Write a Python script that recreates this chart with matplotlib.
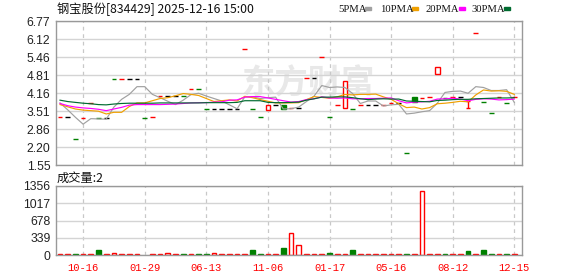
import numpy as np
import matplotlib.pyplot as plt
from matplotlib.patches import Rectangle

# ---- data (60 trading days) ----
opens = [3.30, 3.30, 2.48, 3.26, 3.80, 3.26, 3.26, 4.67, 4.67, 4.67,
         4.67, 3.26, 3.29, 4.05, 4.05, 4.05, 4.05, 4.29, 4.29, 3.59,
         3.59, 3.59, 3.59, 3.59, 5.74, 3.59, 3.30, 3.54, 3.71, 3.71,
         3.62, 3.62, 4.71, 4.71, 5.47, 3.30, 3.71, 3.61, 3.59, 3.71,
         3.71, 3.71, 3.71, 3.80, 3.80, 1.99, 4.02, 3.97, 4.01, 4.86,
         3.97, 4.02, 4.02, 3.62, 6.34, 3.82, 3.44, 4.02, 3.80, 4.02]
closes = [3.30, 3.30, 2.48, 3.26, 3.80, 3.26, 3.26, 4.67, 4.67, 4.67,
          4.67, 3.26, 3.29, 4.05, 4.05, 4.05, 4.05, 4.29, 4.29, 3.59,
          3.59, 3.59, 3.59, 3.59, 5.74, 3.59, 3.30, 3.71, 3.71, 3.59,
          3.62, 3.62, 4.71, 4.71, 5.47, 3.30, 3.71, 4.61, 3.59, 3.71,
          3.71, 3.71, 3.71, 3.80, 3.80, 1.99, 3.85, 3.97, 4.01, 5.12,
          3.97, 4.02, 4.02, 3.62, 6.34, 3.82, 3.44, 4.02, 3.80, 4.02]
highs = [max(o, c) for o, c in zip(opens, closes)]
highs[53] = 3.86
lows = [min(o, c) for o, c in zip(opens, closes)]
# r = up, g = down, k = flat
candle_dir = ("r k g r r g k g r k "
              "k g r r k k g r g g "
              "k k k k r g g r k g "
              "r k r k r g r r g r "
              "k k r r k g g r r r "
              "g r k r r g g r g r").split()

volume = [20, 20, 20, 20, 20, 100, 20, 45, 20, 20,
          20, 0, 20, 20, 45, 20, 20, 20, 20, 20,
          45, 20, 20, 20, 20, 100, 20, 20, 20, 140,
          426, 196, 20, 20, 20, 45, 20, 20, 105, 20,
          20, 20, 20, 20, 20, 20, 20, 1260, 20, 20,
          20, 20, 20, 85, 20, 105, 20, 20, 20, 20]
vol_dir = ("r r g r r g r r r r "
           "r r r r r r g r g g "
           "r r r r r g g r r g "
           "r r r r r g r r g r "
           "r r r r r g r r r r "
           "g r r g r g g r g r").split()

ma5 = [3.80, 3.55, 3.28, 3.03, 3.23, 3.22, 3.21, 3.65, 3.93, 4.11,
       4.39, 4.39, 4.11, 3.99, 3.86, 3.74, 3.90, 4.10, 4.15, 4.05,
       3.96, 3.87, 3.73, 3.59, 4.02, 4.02, 3.96, 3.99, 4.01, 3.58,
       3.59, 3.65, 3.85, 4.05, 4.43, 4.36, 4.38, 4.36, 4.14, 3.78,
       3.87, 3.87, 3.69, 3.73, 3.75, 3.40, 3.43, 3.48, 3.52, 3.79,
       4.18, 4.22, 4.23, 4.15, 4.39, 4.36, 4.25, 4.25, 4.28, 3.82]
ma10 = [3.74, 3.66, 3.58, 3.54, 3.52, 3.50, 3.40, 3.46, 3.46, 3.67,
        3.80, 3.80, 3.88, 3.96, 3.99, 4.06, 4.14, 4.11, 4.07, 3.96,
        3.85, 3.88, 3.91, 3.87, 4.04, 3.99, 3.92, 3.86, 3.80, 3.80,
        3.80, 3.81, 3.92, 4.03, 4.00, 3.97, 4.02, 4.11, 4.09, 4.11,
        4.11, 4.12, 4.02, 3.93, 3.77, 3.63, 3.65, 3.58, 3.63, 3.77,
        3.79, 3.82, 3.86, 3.84, 4.09, 4.27, 4.23, 4.24, 4.22, 4.11]
ma20 = [3.78, 3.70, 3.65, 3.62, 3.60, 3.57, 3.52, 3.58, 3.64, 3.72,
        3.74, 3.74, 3.74, 3.74, 3.75, 3.76, 3.78, 3.80, 3.81, 3.81,
        3.83, 3.84, 3.90, 3.91, 4.01, 4.03, 4.03, 3.98, 3.93, 3.88,
        3.83, 3.85, 3.92, 3.95, 4.02, 3.98, 3.97, 3.98, 3.95, 3.95,
        3.96, 3.96, 3.97, 3.98, 3.88, 3.80, 3.83, 3.84, 3.86, 3.94,
        3.95, 3.97, 3.94, 3.88, 3.93, 3.95, 3.94, 3.91, 3.92, 3.94]
ma30 = [3.90, 3.85, 3.82, 3.79, 3.77, 3.74, 3.73, 3.76, 3.78, 3.79,
        3.79, 3.79, 3.79, 3.80, 3.80, 3.80, 3.80, 3.80, 3.80, 3.81,
        3.81, 3.81, 3.81, 3.82, 3.88, 3.88, 3.88, 3.82, 3.81, 3.81,
        3.82, 3.83, 3.90, 3.95, 4.01, 4.01, 4.02, 4.02, 3.99, 3.95,
        3.92, 3.94, 3.95, 3.94, 3.94, 3.87, 3.86, 3.85, 3.84, 3.89,
        3.90, 3.92, 3.93, 3.93, 3.95, 3.96, 3.97, 3.98, 3.98, 3.99]

date_idx = [3, 11, 19, 27, 35, 43, 51, 59]
date_labels = ['10-16', '01-29', '06-13', '11-06', '01-17', '05-16', '08-12', '12-15']
price_ticks = [1.55, 2.2025, 2.855, 3.5075, 4.16, 4.8125, 5.465, 6.1175, 6.77]
price_labels = ['1.55', '2.20', '2.86', '3.51', '4.16', '4.81', '5.46', '6.12', '6.77']
vol_ticks = [0, 339, 678, 1017, 1356]

RED, GREEN, BLACK = '#ff0000', '#008000', '#000000'
cmap = {'r': RED, 'g': GREEN, 'k': BLACK}
ma_colors = ['#a0a0a0', '#f0a000', '#ff00ff', '#006b30']

W, H = 578, 276
def fx(x): return x / W
def fy(y): return 1 - y / H

fig = plt.figure(figsize=(W / 100, H / 100), dpi=100)
ax = fig.add_axes([fx(56), fy(165), 466 / W, 144 / H])
axv = fig.add_axes([fx(56), fy(255), 466 / W, 69 / H])

n = len(closes)
x = np.arange(n)
bw = 0.62

for a in (ax, axv):
    a.set_xlim(-0.52, 60.0)
    a.set_xticks(date_idx)
    a.grid(axis='y', color='#d4d4d4', lw=1, ls='-')
    a.grid(axis='x', color='#c8c8c8', lw=0.9, ls=(0, (3, 3)))
    a.set_axisbelow(True)
    for s in a.spines.values():
        s.set_color('#999999')
        s.set_linewidth(1)
    a.tick_params(length=0, pad=4, labelsize=8.5)

# price panel
ax.set_ylim(1.55, 6.77)
ax.set_yticks(price_ticks)
ax.set_yticklabels(price_labels, family='Liberation Sans', fontsize=8.7, color='#222222')
ax.set_xticklabels([])

# watermark
ax.text(32.2, 4.5, '东方财富', fontsize=24, fontweight='bold', color='#e8e8e8',
        ha='center', va='center', family='Noto Sans CJK SC', zorder=0.5)

for i in range(n):
    o, h, l, c = opens[i], highs[i], lows[i], closes[i]
    col = cmap[candle_dir[i]]
    if o == c:
        ax.hlines(o, i - bw / 2, i + bw / 2, color=col, lw=1.0, zorder=2)
        if h > l:
            ax.vlines(i, l, h, color=col, lw=1.0, zorder=2)
            ax.hlines(h, i - bw / 2, i + bw / 2, color=col, lw=1.0, zorder=2)
    else:
        if c > o:
            rect = Rectangle((i - bw / 2, o), bw, c - o, facecolor='white',
                             edgecolor=col, lw=1.0, zorder=2)
        else:
            rect = Rectangle((i - bw / 2, c), bw, o - c, facecolor=col,
                             edgecolor=col, lw=1.0, zorder=2)
        ax.add_patch(rect)

for ma, col in zip([ma5, ma10, ma20, ma30], ma_colors):
    ax.plot(x, ma, color=col, lw=0.85, zorder=3)

# volume panel
axv.set_ylim(0, 1356)
axv.set_yticks(vol_ticks)
axv.set_yticklabels([str(v) for v in vol_ticks], family='Liberation Sans',
                    fontsize=8.7, color='#222222')
axv.set_xticklabels(date_labels, family='Liberation Mono', fontsize=7.6, color=RED)
axv.tick_params(axis='x', pad=6)

for i in range(n):
    v = volume[i]
    if v <= 0:
        continue
    if vol_dir[i] == 'g':
        axv.bar(i, v, width=bw, color=GREEN, edgecolor=GREEN, lw=1.0, zorder=2)
    else:
        axv.bar(i, v, width=bw, facecolor='white', edgecolor=RED, lw=1.0, zorder=2)

# titles
fig.text(fx(57), fy(9), '钢宝股份[834429] 2025-12-16 15:00', family='Noto Sans CJK SC',
         fontsize=8.8, va='center', ha='left', color='#111111')
fig.text(fx(57), fy(178), '成交量:2', family='Noto Sans CJK SC',
         fontsize=8.8, va='center', ha='left', color='#111111')

# legend
leg_names = ['5PMA', '10PMA', '20PMA', '30PMA']
leg_text_x = [338, 380, 425, 471]
leg_box_x = [365, 412, 459, 504]
for name, tx, bx, col in zip(leg_names, leg_text_x, leg_box_x, ma_colors):
    fig.text(fx(tx), fy(9), name, family='Liberation Serif', fontsize=7.7,
             va='center', ha='left', color='#111111')
    fig.patches.append(Rectangle((fx(bx), fy(10)), 6 / W, 3 / H, color=col,
                                 transform=fig.transFigure, figure=fig))

fig.savefig('out.png', dpi=100)
